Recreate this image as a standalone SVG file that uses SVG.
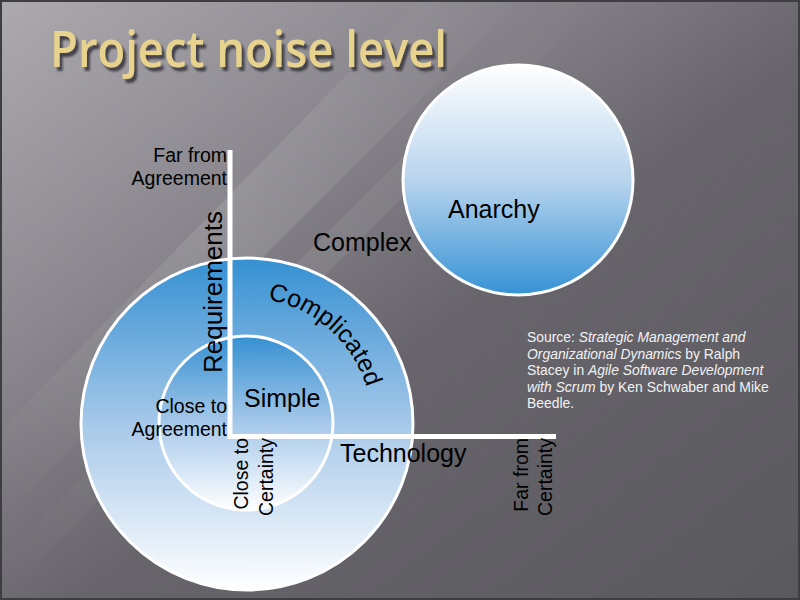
<svg xmlns="http://www.w3.org/2000/svg" width="800" height="600" viewBox="0 0 800 600">
  <defs>
    <linearGradient id="bg" x1="0" y1="0" x2="1" y2="1">
      <stop offset="0" stop-color="#acaaaf"/>
      <stop offset="0.3" stop-color="#8a888e"/>
      <stop offset="0.55" stop-color="#67656b"/>
      <stop offset="1" stop-color="#5a595e"/>
    </linearGradient>
    <linearGradient id="streak" x1="0" y1="1" x2="1" y2="0">
      <stop offset="0" stop-color="#ffffff" stop-opacity="0"/>
      <stop offset="0.5" stop-color="#ffffff" stop-opacity="0.12"/>
      <stop offset="1" stop-color="#ffffff" stop-opacity="0"/>
    </linearGradient>
    <linearGradient id="blueDown" x1="0" y1="0" x2="0" y2="1">
      <stop offset="0" stop-color="#3590d2"/>
      <stop offset="0.5" stop-color="#a6c8e9"/>
      <stop offset="1" stop-color="#ffffff"/>
    </linearGradient>
    <linearGradient id="blueUp" x1="0" y1="0" x2="0" y2="1">
      <stop offset="0" stop-color="#ffffff"/>
      <stop offset="0.5" stop-color="#b8d4ee"/>
      <stop offset="1" stop-color="#3592d4"/>
    </linearGradient>
    <filter id="shadow" x="-5%" y="-20%" width="115%" height="160%">
      <feDropShadow dx="3" dy="4" stdDeviation="1.2" flood-color="#3f3e44" flood-opacity="0.95"/>
    </filter>
    <path id="arcComplicated" d="M246,298 A126,126 0 0 1 371.1,408.6"/>
  </defs>
  <style>
    .lbl { font-family: "Liberation Sans", Arial, sans-serif; fill: #000; }
    .big { font-size: 25px; }
    .mid { font-size: 19.5px; }
    .ring { stroke: #ffffff; stroke-width: 3; }
    .axis { stroke: #ffffff; stroke-width: 5; fill: none; }
    .src { font-family: "Liberation Sans", Arial, sans-serif; font-size: 13.9px; fill: #f2f2f2; }
    .title { font-family: "Open Sans", "DejaVu Sans", sans-serif; font-size: 50px; font-weight: 600; }
  </style>

  <!-- background -->
  <rect x="0" y="0" width="800" height="600" fill="url(#bg)"/>
  <polygon points="0,520 0,430 420,0 520,0" fill="url(#streak)"/>
  <polygon points="0,600 0,560 560,0 600,0" fill="url(#streak)" opacity="0.7"/>
  <rect x="1" y="1" width="798" height="598" fill="none" stroke="#3e3d42" stroke-width="2"/>

  <!-- title -->
  <g id="title">
    <text class="title" x="50" y="67" fill="#e8d38e" filter="url(#shadow)" textLength="397" lengthAdjust="spacingAndGlyphs">Project noise level</text>
  </g>

  <!-- nodes -->
  <g id="complicated">
    <circle cx="247" cy="424" r="166" class="ring" fill="url(#blueDown)"/>
  </g>
  <g id="simple">
    <circle cx="246" cy="423" r="87" class="ring" fill="url(#blueDown)"/>
  </g>
  <g id="anarchy">
    <circle cx="518" cy="180" r="115" class="ring" fill="url(#blueUp)"/>
  </g>

  <!-- connectors (axes) -->
  <g id="axes">
    <line class="axis" x1="230" y1="150" x2="230" y2="436.5"/>
    <line class="axis" x1="227.5" y1="436.5" x2="556" y2="436.5"/>
  </g>

  <!-- labels -->
  <g id="labels">
    <text class="lbl mid" x="227" y="162" text-anchor="end">Far from</text>
    <text class="lbl mid" x="227" y="185" text-anchor="end">Agreement</text>
    <text class="lbl" font-size="26" transform="translate(222,292) rotate(-90)" text-anchor="middle">Requirements</text>
    <text class="lbl big" x="313" y="251">Complex</text>
    <text class="lbl big" x="448" y="218">Anarchy</text>
    <text class="lbl big"><textPath href="#arcComplicated" startOffset="50%" text-anchor="middle">Complicated</textPath></text>
    <text class="lbl big" x="244" y="407">Simple</text>
    <text class="lbl mid" x="227" y="413" text-anchor="end">Close to</text>
    <text class="lbl mid" x="227" y="436" text-anchor="end">Agreement</text>
    <text class="lbl mid" transform="translate(248,438) rotate(-90)" text-anchor="end">Close to</text>
    <text class="lbl mid" transform="translate(273,438) rotate(-90)" text-anchor="end">Certainty</text>
    <text class="lbl big" x="340" y="462">Technology</text>
    <text class="lbl mid" transform="translate(528,438) rotate(-90)" text-anchor="end">Far from</text>
    <text class="lbl mid" transform="translate(552,438) rotate(-90)" text-anchor="end">Certainty</text>
  </g>

  <!-- source note -->
  <g id="source">
    <text class="src" x="527" y="342">Source: <tspan font-style="italic">Strategic Management and</tspan></text>
    <text class="src" x="527" y="358.5"><tspan font-style="italic">Organizational Dynamics</tspan> by Ralph</text>
    <text class="src" x="527" y="375">Stacey in <tspan font-style="italic">Agile Software Development</tspan></text>
    <text class="src" x="527" y="391.5"><tspan font-style="italic">with Scrum</tspan> by Ken Schwaber and Mike</text>
    <text class="src" x="527" y="408">Beedle.</text>
  </g>
</svg>
